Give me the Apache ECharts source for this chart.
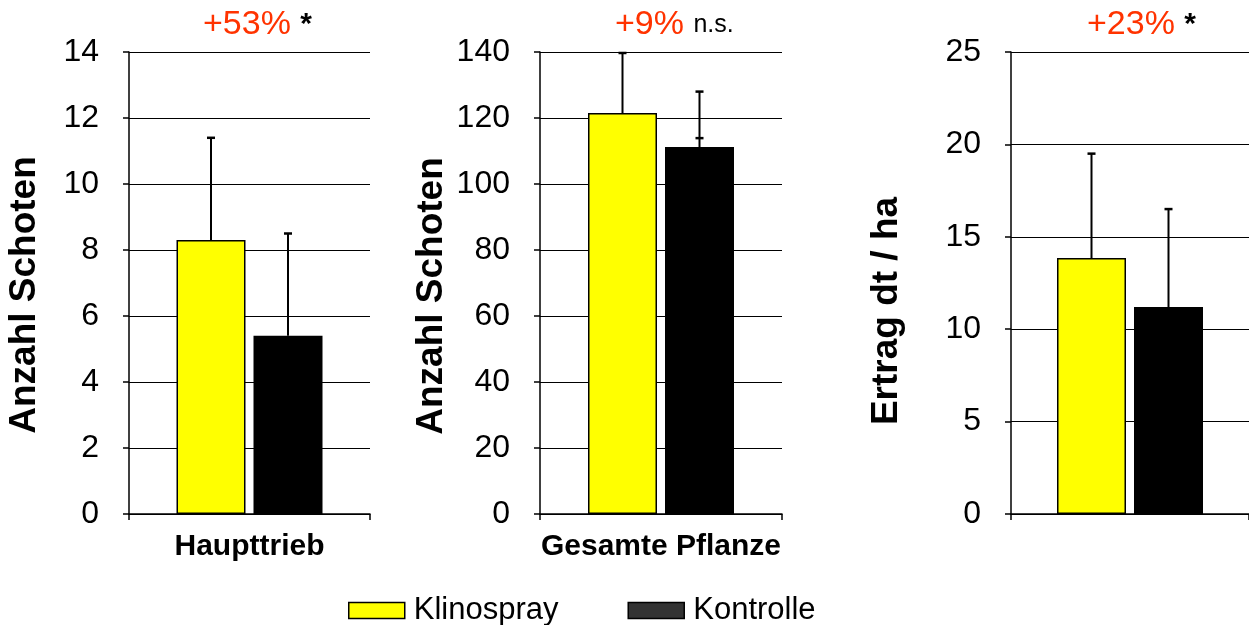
<!DOCTYPE html>
<html><head><meta charset="utf-8">
<script src="https://cdn.jsdelivr.net/npm/echarts@6/dist/echarts.min.js"></script>
<style>html,body{margin:0;padding:0;background:#fff}#c{width:1249px;height:625px}</style>
</head><body><div id="c"></div>
<script>
// ---- data ----
const categories = [['Haupttrieb'], ['Gesamte Pflanze'], ['']];
const seriesNames = ['Klinospray', 'Kontrolle'];
const klinospray = [8.3, 121.5, 13.85];
const kontrolle = [5.4, 111.2, 11.2];
const klinosprayErrHigh = [11.4, 139.7, 19.5];
const kontrolleErrHigh = [8.5, 128, 16.5];
const kontrolleExtraCap = [null, 113.9, null];
const yMax = [14, 140, 25];
const yInterval = [2, 20, 5];
const yNames = ['Anzahl Schoten', 'Anzahl Schoten', 'Ertrag dt / ha'];
const changeLabels = ['+53%', '+9%', '+23%'];
const signifLabels = ['*', 'n.s.', '*'];

// ---- layout ----
const FONT = '"Liberation Sans", Arial, sans-serif';
const grids = [
  {left: 129, width: 241, top: 52, height: 462},
  {left: 540, width: 242, top: 52, height: 462},
  {left: 1011, width: 238, top: 52, height: 462}
];
const BAR_W = 69, BAR_GAP = 8;
const offsets = [-(BAR_W + BAR_GAP) / 2, (BAR_W + BAR_GAP) / 2];
const titleLefts = [203, 615, 1087];
const nameGaps = [86, 90, 106];
const namePadRight = [24, 26, 56];

const option = {
  backgroundColor: '#fff',
  animation: false,
  grid: grids,
  xAxis: grids.map((g, i) => ({
    type: 'category', gridIndex: i, data: categories[i],
    axisLine: {lineStyle: {color: '#000', width: 1.5}},
    axisTick: {show: true, length: 6, lineStyle: {color: '#000', width: 1.5}},
    axisLabel: {fontFamily: FONT, fontSize: 30, fontWeight: 'bold', color: '#000', margin: 18}
  })),
  yAxis: grids.map((g, i) => ({
    type: 'value', gridIndex: i, min: 0, max: yMax[i], interval: yInterval[i],
    name: yNames[i], nameLocation: 'middle', nameGap: nameGaps[i],
    nameTextStyle: {fontFamily: FONT, fontSize: 37, fontWeight: 'bold', color: '#000',
      padding: [0, namePadRight[i], 0, 0]},
    axisLine: {show: true, lineStyle: {color: '#000', width: 1.5}},
    axisTick: {show: true, length: 6, lineStyle: {color: '#000', width: 1.5}},
    axisLabel: {fontFamily: FONT, fontSize: 32, color: '#000', margin: 30},
    splitLine: {show: true, lineStyle: {color: '#000', width: 1}}
  })),
  legend: {
    left: 343, top: 590, itemWidth: 56, itemHeight: 16, itemGap: 69,
    textStyle: {fontFamily: FONT, fontSize: 31, color: '#000', padding: [0, 0, 0, 4]},
    data: [
      {name: 'Klinospray', icon: 'rect', itemStyle: {color: '#ffff00', borderColor: '#000', borderWidth: 1.5}},
      {name: 'Kontrolle', icon: 'rect', itemStyle: {color: '#333', borderColor: '#000', borderWidth: 1.5}}
    ]
  },
  graphic: titleLefts.map((x, i) => ({
    type: 'text', x: x, y: 25,
    style: {
      text: '{r|' + changeLabels[i] + ' }{b|' + signifLabels[i] + '}',
      align: 'left', verticalAlign: 'middle',
      rich: {
        r: {fontFamily: FONT, fontSize: 34, fill: '#ff3300', color: '#ff3300'},
        b: {fontFamily: FONT, fontSize: signifLabels[i] === '*' ? 30 : 25,
            fontWeight: signifLabels[i] === '*' ? 'bold' : 'normal', fill: '#000', color: '#000'}
      }
    }
  })),
  series: []
};

const values = [klinospray, kontrolle];
const errs = [klinosprayErrHigh, kontrolleErrHigh];
const colors = ['#ffff00', '#000'];
for (let i = 0; i < 3; i++) {
  for (let s = 0; s < 2; s++) {
    option.series.push({
      type: 'bar', name: seriesNames[s], xAxisIndex: i, yAxisIndex: i,
      barWidth: BAR_W, barGap: (BAR_GAP / BAR_W * 100) + '%',
      itemStyle: {color: colors[s], borderColor: '#000', borderWidth: s === 0 ? 1.5 : 0},
      data: [values[s][i]], z: 2
    });
  }
  for (let s = 0; s < 2; s++) {
    const extra = s === 1 ? kontrolleExtraCap[i] : null;
    option.series.push({
      type: 'custom', name: seriesNames[s], xAxisIndex: i, yAxisIndex: i, z: 3,
      data: [[0, values[s][i], errs[s][i], extra]],
      renderItem: (params, api) => {
        const base = api.coord([api.value(0), api.value(1)]);
        const top = api.coord([api.value(0), api.value(2)]);
        const x = base[0] + offsets[s];
        const cw = 4;
        const children = [
          {type: 'line', shape: {x1: x, y1: base[1], x2: x, y2: top[1]}, style: {stroke: '#000', lineWidth: 2}},
          {type: 'line', shape: {x1: x - cw, y1: top[1], x2: x + cw, y2: top[1]}, style: {stroke: '#000', lineWidth: 2.5}}
        ];
        const ex = api.value(3);
        if (ex != null && !isNaN(ex)) {
          const p = api.coord([api.value(0), ex]);
          children.push({type: 'line', shape: {x1: x - cw, y1: p[1], x2: x + cw, y2: p[1]}, style: {stroke: '#000', lineWidth: 2.5}});
        }
        return {type: 'group', children};
      }
    });
  }
}

const chart = echarts.init(document.getElementById('c'), null, {renderer: 'canvas'});
chart.setOption(option);
</script></body></html>
